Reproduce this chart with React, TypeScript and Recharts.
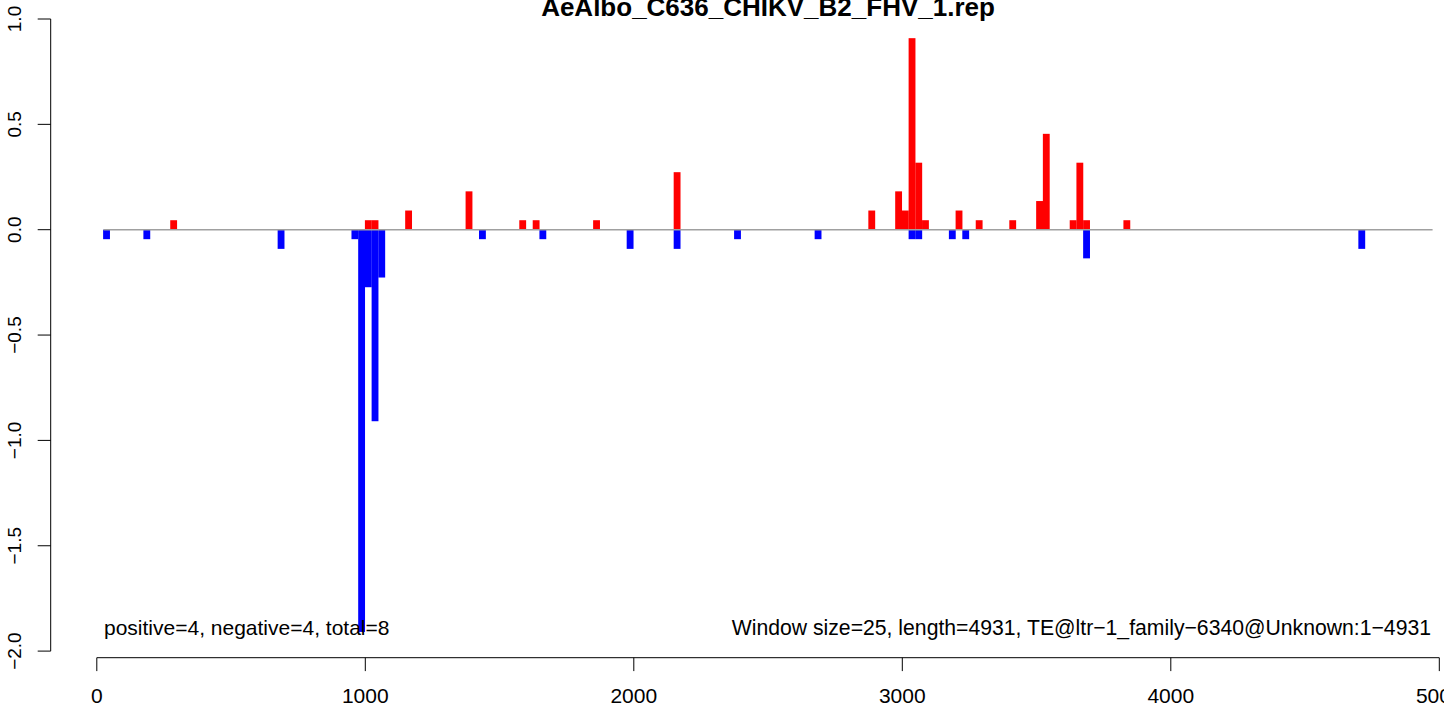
import { BarChart, Bar, XAxis, YAxis, ReferenceLine } from "recharts";

// window starts (bp) and scores
const positiveStarts = [275, 1000, 1025, 1150, 1375, 1575, 1625, 1850, 2150, 2875, 2975, 3000, 3025, 3050, 3075, 3200, 3275, 3400, 3500, 3525, 3625, 3650, 3675, 3825];
const positiveValues = [0.045, 0.045, 0.045, 0.091, 0.182, 0.045, 0.045, 0.045, 0.273, 0.091, 0.182, 0.091, 0.909, 0.318, 0.045, 0.091, 0.045, 0.045, 0.136, 0.455, 0.045, 0.318, 0.045, 0.045];
const negativeStarts = [25, 175, 675, 950, 975, 1000, 1025, 1050, 1425, 1650, 1975, 2150, 2375, 2675, 3025, 3050, 3175, 3225, 3675, 4700];
const negativeValues = [-0.045, -0.045, -0.091, -0.045, -1.909, -0.273, -0.909, -0.227, -0.045, -0.045, -0.091, -0.091, -0.045, -0.045, -0.045, -0.045, -0.045, -0.045, -0.136, -0.091];
const windowSize = 25;
const baselineRange = [25, 4975];

const xTicks = [0, 1000, 2000, 3000, 4000, 5000];
const yTicks = [-2, -1.5, -1, -0.5, 0, 0.5, 1];

const title = "AeAlbo_C636_CHIKV_B2_FHV_1.rep";
const countsLabel = "positive=4, negative=4, total=8";
const infoLabel = "Window size=25, length=4931, TE@ltr\u22121_family\u22126340@Unknown:1\u22124931";

const FONT = "'Liberation Sans', Arial, Helvetica, sans-serif";

// layout (px)
const W = 1444;
const H = 704;
const plotLeft = 50.7;
const plotRight = 1439.3;
const plotTop = 19;
const plotBottom = 651.1;
const xMin = -171.7;
const xMax = 5000;
const yMin = -2;
const yMax = 1;
const pxPerY = (plotBottom - plotTop) / (yMax - yMin);
const barW = ((plotRight - plotLeft) * windowSize) / (xMax - xMin);
const xAxisGap = 6.6 / pxPerY;

type Row = { x: number; pos: number; neg: number };
const rowMap = new Map<number, Row>();
const getRow = (start: number) => {
  const c = start + windowSize / 2;
  if (!rowMap.has(c)) rowMap.set(c, { x: c, pos: 0, neg: 0 });
  return rowMap.get(c)!;
};
positiveStarts.forEach((s, i) => (getRow(s).pos = positiveValues[i]));
negativeStarts.forEach((s, i) => (getRow(s).neg = negativeValues[i]));
const data = [...rowMap.values()].sort((a, b) => a.x - b.x);

const fmtY = (v: number) => v.toFixed(1).replace("-", "\u2212");

// solid bar, widened a hair so neighbouring windows join without seams
const BinBar = ({ x, y, width, height, fill }: any) => {
  if (!height || !width) return null;
  const top = Math.min(y, y + height);
  return <rect x={x - 0.4} y={top} width={Math.abs(width) + 0.8} height={Math.abs(height)} fill={fill} />;
};

const XTick = ({ x, y, payload }: any) => (
  <g>
    <line x1={x} x2={x} y1={y + 6.6} y2={y + 20} stroke="#000" strokeWidth={1} />
    <text x={x} y={y + 52} textAnchor="middle" fontSize={21} fontFamily={FONT} fill="#000">
      {payload.value}
    </text>
  </g>
);

const YTick = ({ x, y, payload }: any) => {
  const tx = x - 16.7;
  return (
    <text
      x={tx}
      y={y}
      transform={`rotate(-90 ${tx} ${y})`}
      textAnchor="middle"
      fontSize={19}
      fontFamily={FONT}
      fill="#000"
    >
      {fmtY(payload.value)}
    </text>
  );
};

export default function App() {
  return (
    <div style={{ position: "absolute", left: 0, top: 0, width: W, height: H, background: "#fff", fontFamily: FONT }}>
      <BarChart
        width={W}
        height={H}
        data={data}
        stackOffset="sign"
        margin={{ top: plotTop, right: W - plotRight, bottom: 0, left: 0 }}
      >
        <XAxis
          dataKey="x"
          type="number"
          domain={[xMin, xMax]}
          ticks={xTicks}
          allowDataOverflow
          axisLine={false}
          tickLine={false}
          tickSize={0}
          tickMargin={0}
          height={H - plotBottom}
          tick={<XTick />}
          interval={0}
        />
        <YAxis
          type="number"
          domain={[yMin, yMax]}
          ticks={yTicks}
          allowDataOverflow
          width={plotLeft}
          axisLine={{ stroke: "#000", strokeWidth: 1 }}
          tickLine={{ stroke: "#000", strokeWidth: 1 }}
          tickSize={13}
          tickMargin={0}
          tick={<YTick />}
          interval={0}
        />
        <Bar dataKey="pos" stackId="s" fill="#FF0000" barSize={barW} shape={<BinBar />} isAnimationActive={false} />
        <Bar dataKey="neg" stackId="s" fill="#0000FF" barSize={barW} shape={<BinBar />} isAnimationActive={false} />
        <ReferenceLine
          segment={[{ x: baselineRange[0], y: 0 }, { x: baselineRange[1], y: 0 }]}
          stroke="#A0A0A0"
          strokeWidth={1.5}
          ifOverflow="visible"
        />
        <ReferenceLine
          segment={[{ x: xTicks[0], y: yMin - xAxisGap }, { x: xTicks[xTicks.length - 1], y: yMin - xAxisGap }]}
          stroke="#000"
          strokeWidth={1}
          ifOverflow="visible"
        />
      </BarChart>
      <svg
        width={W}
        height={H}
        style={{ position: "absolute", left: 0, top: 0, pointerEvents: "none" }}
      >
        <text x={768} y={15.5} textAnchor="middle" fontSize={26} fontWeight="bold" fontFamily={FONT} fill="#000">
          {title}
        </text>
        <text x={104} y={635.3} textAnchor="start" fontSize={21} fontFamily={FONT} fill="#000">
          {countsLabel}
        </text>
        <text x={1431} y={635.3} textAnchor="end" fontSize={21.2} fontFamily={FONT} fill="#000">
          {infoLabel}
        </text>
      </svg>
    </div>
  );
}
